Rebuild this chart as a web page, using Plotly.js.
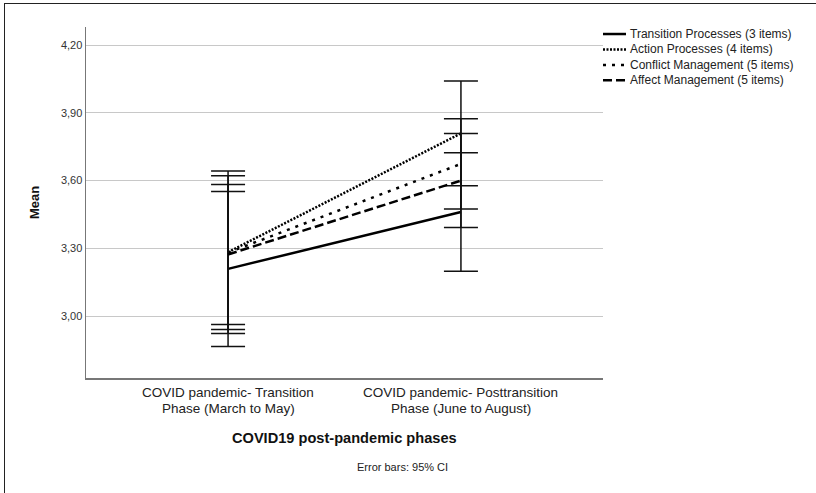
<!DOCTYPE html>
<html>
<head>
<meta charset="utf-8">
<script src="https://cdn.plot.ly/plotly-3.0.1.min.js"></script>
<style>
html,body{margin:0;padding:0;background:#fff;}
#frame{position:absolute;left:4px;top:3px;width:812px;height:490px;border-left:1.5px solid #222;border-top:1.5px solid #222;box-sizing:border-box;}
#chart{position:absolute;left:0;top:0;width:816px;height:493px;}
</style>
</head>
<body>
<div id="frame"></div>
<div id="chart"></div>
<script>
// categories (x axis), two text lines each
const phaseLine1 = ["COVID pandemic- Transition", "COVID pandemic- Posttransition"];
const phaseLine2 = ["Phase (March to May)", "Phase (June to August)"];
const phases = phaseLine1.map((t, i) => t + " " + phaseLine2[i]);
// series names
const seriesNames = ["Transition Processes (3 items)", "Action Processes (4 items)", "Conflict Management (5 items)", "Affect Management (5 items)"];
// means
const transitionMean = [3.209, 3.461];
const actionMean = [3.283, 3.809];
const conflictMean = [3.281, 3.674];
const affectMean = [3.273, 3.600];
// 95% CI half-widths
const transitionCI = [0.343, 0.262];
const actionCI = [0.360, 0.232];
const conflictCI = [0.340, 0.200];
const affectCI = [0.310, 0.208];
// y tick values
const yTicks = [3.00, 3.30, 3.60, 3.90, 4.20];
const yTickText = ["3,00", "3,30", "3,60", "3,90", "4,20"];

const means = [transitionMean, actionMean, conflictMean, affectMean];
const cis = [transitionCI, actionCI, conflictCI, affectCI];
const dashes = ["solid", "2px,1.5px", "3px,6px", "9px,4px"];

const traces = means.map((m, i) => ({
  type: "scatter",
  mode: "lines",
  x: phases,
  y: m,
  name: seriesNames[i],
  showlegend: false,
  line: {color: "#000", width: 2.5, dash: dashes[i]},
  error_y: {type: "data", array: cis[i], symmetric: true, color: "#111", thickness: 1.5, width: 17},
  hoverinfo: "skip"
}));

// legend drawn as layout decoration (compact SPSS-style spacing)
const legendRowsY = [0.980, 0.936, 0.892, 0.848];
const shapes = [];
const annotations = [];
seriesNames.forEach((name, i) => {
  shapes.push({type: "line", xref: "paper", yref: "paper", x0: 1.0, x1: 1.0445,
    y0: legendRowsY[i], y1: legendRowsY[i], line: {color: "#000", width: 2.5, dash: dashes[i]}});
  annotations.push({text: name, xref: "paper", yref: "paper", x: 1.0484, y: legendRowsY[i],
    xanchor: "left", yanchor: "middle", showarrow: false, font: {size: 12, color: "#222"}});
});
// category labels, two tight lines
phaseLine1.forEach((t, i) => {
  annotations.push({text: t, xref: "x", yref: "paper", x: i, y: -0.0413, xanchor: "center", yanchor: "middle",
    showarrow: false, borderpad: 0, font: {size: 13.5, color: "#222"}});
  annotations.push({text: phaseLine2[i], xref: "x", yref: "paper", x: i, y: -0.0855, xanchor: "center", yanchor: "middle",
    showarrow: false, borderpad: 0, font: {size: 13.5, color: "#222"}});
});
annotations.push({text: "<b>COVID19 post-pandemic phases</b>", xref: "paper", yref: "paper",
  x: 0.5, y: -0.1718, xanchor: "center", yanchor: "middle", showarrow: false, font: {size: 14.6, color: "#111"}});
annotations.push({text: "Error bars: 95% CI", xref: "paper", yref: "paper",
  x: 0.613, y: -0.2527, xanchor: "center", yanchor: "middle", showarrow: false, font: {size: 11, color: "#222"}});

const layout = {
  width: 816, height: 493,
  margin: {l: 86, r: 213, t: 27, b: 115},
  paper_bgcolor: "rgba(0,0,0,0)",
  plot_bgcolor: "#fff",
  font: {family: "Liberation Sans, Arial, sans-serif", color: "#222"},
  showlegend: false,
  xaxis: {
    type: "category",
    range: [-0.61, 1.61],
    showline: true, linecolor: "#777", linewidth: 1.5,
    showgrid: false, ticks: "", zeroline: false, showticklabels: false
  },
  yaxis: {
    range: [2.726, 4.28],
    tickvals: yTicks, ticktext: yTickText,
    showline: true, linecolor: "#777", linewidth: 1.5,
    showgrid: true, gridcolor: "#c8c8c8", gridwidth: 1,
    ticks: "", zeroline: false,
    tickfont: {size: 11, color: "#333"},
    title: {text: "<b>Mean</b>", font: {size: 13, color: "#111"}, standoff: 18}
  },
  shapes: shapes,
  annotations: annotations
};

Plotly.newPlot("chart", traces, layout, {displayModeBar: false, staticPlot: true});
</script>
</body>
</html>
